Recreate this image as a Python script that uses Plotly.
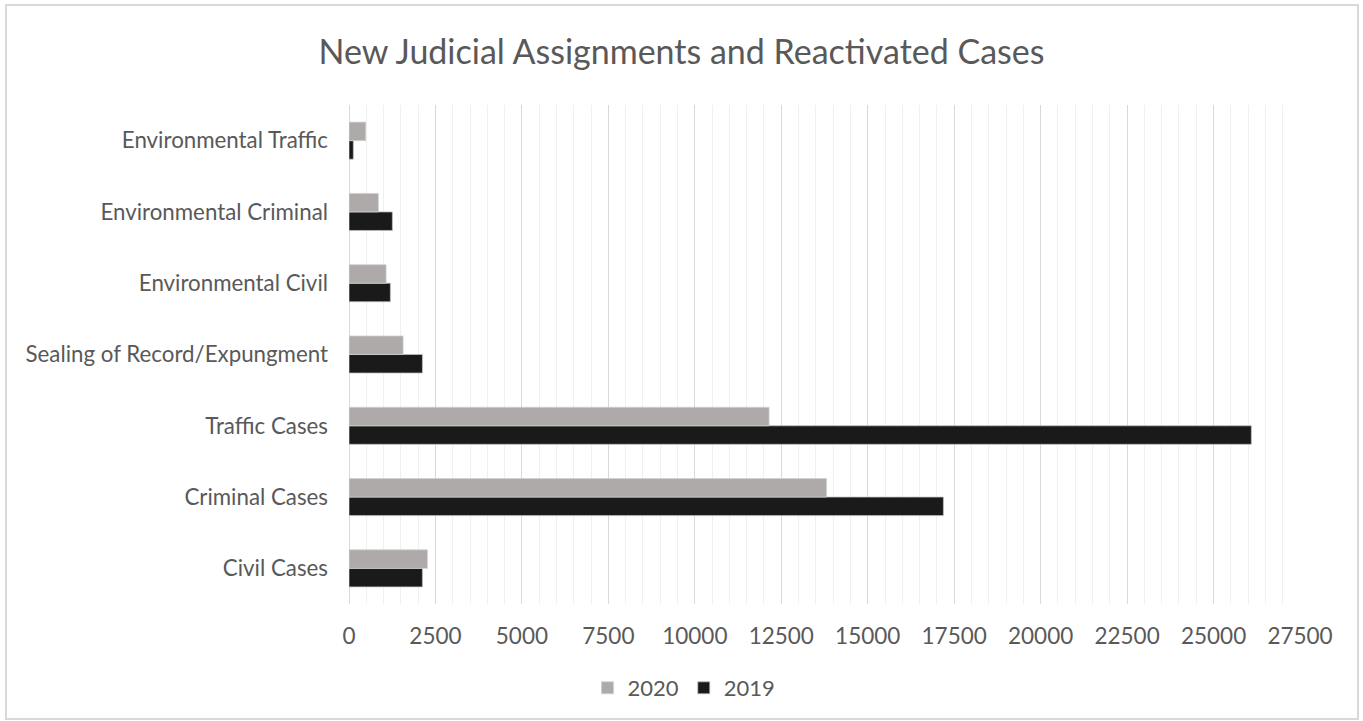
import plotly.graph_objects as go

categories = ["Civil Cases", "Criminal Cases", "Traffic Cases", "Sealing of Record/Expungment",
              "Environmental Civil", "Environmental Criminal", "Environmental Traffic"]
values_2020 = [2268, 13810, 12147, 1564, 1072, 849, 484]
values_2019 = [2123, 17188, 26093, 2123, 1196, 1254, 125]
x_ticks = [0, 2500, 5000, 7500, 10000, 12500, 15000, 17500, 20000, 22500, 25000, 27500]

FONT = "Lato, 'Open Sans', sans-serif"
TXT = "#595959"

W, H = 1363, 721
L, R, T, B = 349, 1300, 105, 604

fig = go.Figure()
fig.add_trace(go.Bar(y=categories, x=values_2019, name="2019", orientation="h",
                     marker=dict(color="#1a1a1a", line=dict(color="#bfbfbf", width=0.75)),
                     legendrank=2))
fig.add_trace(go.Bar(y=categories, x=values_2020, name="2020", orientation="h",
                     marker=dict(color="#aeaaaa", line=dict(color="#d0d0d0", width=0.75)),
                     legendrank=1))

def px_x(p):
    return (p - L) / (R - L)

def px_y(p):
    return (B - p) / (B - T)

fig.add_shape(type="rect", xref="paper", yref="paper",
              x0=px_x(6), x1=px_x(1358), y0=px_y(719), y1=px_y(5),
              line=dict(color="#d9d9d9", width=2), fillcolor="rgba(0,0,0,0)", layer="below")

fig.update_layout(
    width=W, height=H,
    margin=dict(l=L, r=W - R, t=T, b=H - B),
    paper_bgcolor="white", plot_bgcolor="white",
    barmode="group", bargap=0.48, bargroupgap=0,
    font=dict(family=FONT, color=TXT, size=22),
    title=dict(text="New Judicial Assignments and Reactivated Cases",
               x=0.5, xanchor="center", y=1 - 52 / H, yanchor="middle",
               font=dict(family=FONT, size=34, color=TXT)),
    legend=dict(orientation="h", x=px_x(684), xanchor="center", y=px_y(688), yanchor="middle",
                font=dict(size=22, color=TXT), itemwidth=30, traceorder="normal"),
    xaxis=dict(range=[0, 27500], tickvals=x_ticks, ticktext=[str(v) for v in x_ticks],
               showgrid=True, gridcolor="#d9d9d9", gridwidth=1,
               minor=dict(dtick=500, showgrid=True, gridcolor="#f0f0f0", gridwidth=1),
               zeroline=True, zerolinecolor="#d9d9d9", zerolinewidth=1,
               showline=False, ticks="", ticklabelstandoff=16,
               tickfont=dict(size=22.5, color=TXT), fixedrange=True),
    yaxis=dict(categoryorder="array", categoryarray=categories,
               showgrid=False, showline=False, ticks="", ticklabelstandoff=20,
               tickfont=dict(size=22.3, color=TXT), fixedrange=True),
)

fig.write_html("out.html")
